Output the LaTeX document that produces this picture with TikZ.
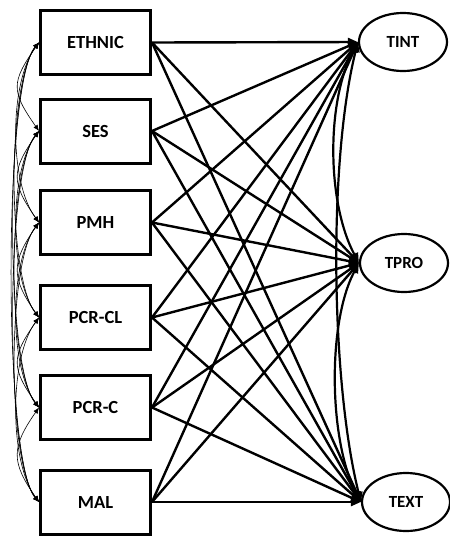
\documentclass[tikz,border=0pt]{standalone}
\usepackage{fontspec}
\setmainfont{Carlito}
\usetikzlibrary{shapes.geometric,arrows.meta}
\begin{document}
\begin{tikzpicture}[x=1pt,y=-1pt,
	obs/.style={draw,line width=3pt,minimum width=110pt,minimum height=64pt,inner sep=0pt,font=\bfseries\fontsize{18.5}{20}\selectfont},
	lat/.style={draw,ellipse,line width=2.2pt,minimum width=88pt,minimum height=58pt,inner sep=0pt,font=\bfseries\fontsize{17}{20}\selectfont},
	reg/.style={line width=2.4pt,-{Triangle[length=10pt,width=8pt]}},
	cov/.style={line width=0.6pt,{Latex[length=6pt,width=5pt]}-{Latex[length=6pt,width=5pt]}},
	rcov/.style={line width=2.2pt,{Triangle[length=10pt,width=8pt]}-{Triangle[length=10pt,width=8pt]}}]
\useasboundingbox (0,0) rectangle (450,539);
% predictors
\node[obs] (x1) at (95.5,42.5) {ETHNIC};
\node[obs] (x2) at (95.5,131) {SES};
\node[obs] (x3) at (95.5,222.5) {PMH};
\node[obs] (x4) at (95.5,317.5) {PCR-CL};
\node[obs] (x5) at (95.5,407.5) {PCR-C};
\node[obs] (x6) at (95.5,502) {MAL};
% outcomes
\node[lat] (t1) at (403,42) {TINT};
\node[lat] (t2) at (404,263) {TPRO};
\node[lat] (t3) at (406,502) {TEXT};
\foreach \i in {1,...,6}
	\foreach \t in {t1,t2,t3}
		\draw[reg] (x\i.east) -- (\t.west);
% correlations among predictors
\foreach \i in {1,...,5}{
	\pgfmathtruncatemacro{\n}{\i+1}
	\foreach \j in {\n,...,6}{
		\pgfmathsetmacro{\k}{26+2*(\j-\i)}
		\draw[cov] (x\i.west) .. controls +(-\k,40) and +(-\k,-40) .. (x\j.west);
	}
}
\draw[rcov] (t1.west) .. controls +(-32,60) and +(-32,-60) .. (t2.west);
\draw[rcov] (t2.west) .. controls +(-32,60) and +(-32,-60) .. (t3.west);
\draw[rcov] (t1.west) .. controls +(-30,120) and +(-30,-120) .. (t3.west);
\end{tikzpicture}
\end{document}
